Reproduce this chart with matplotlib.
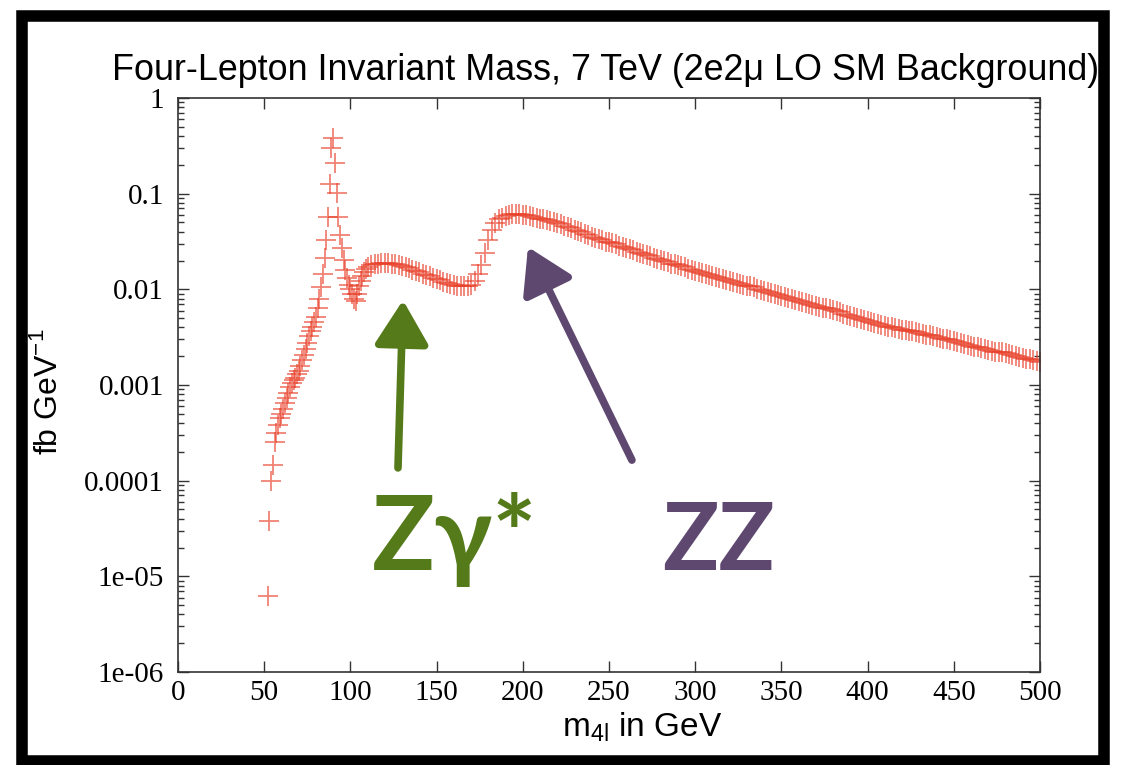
import numpy as np
import matplotlib
matplotlib.use("Agg")
import matplotlib.pyplot as plt
from matplotlib.patches import Rectangle, FancyArrowPatch
from matplotlib.ticker import FixedLocator, FixedFormatter, LogLocator, NullFormatter

# ---- data: 2e2mu LO SM background, d(sigma)/d(m4l) in fb/GeV ----
mass_fine = list(range(52, 111))            # 1 GeV bins around the Z peak
mass_coarse = list(range(112, 501, 2))      # 2 GeV bins above
mass = mass_fine + mass_coarse

log10_dsigma_fine = [
    -5.21, -4.42, -4.00, -3.84, -3.60, -3.50, -3.42, -3.35, -3.30, -3.25,
    -3.19, -3.14, -3.08, -3.02, -2.98, -2.95, -2.93, -2.89, -2.85, -2.80,
    -2.74, -2.69, -2.62, -2.56, -2.49, -2.44, -2.39, -2.34, -2.29, -2.20,
    -2.10, -1.98, -1.84, -1.67, -1.48, -1.24, -0.90, -0.52, -0.42, -0.68,
    -0.99, -1.24, -1.43, -1.57, -1.69, -1.80, -1.88, -1.95, -2.00, -2.05,
    -2.10, -2.12, -2.05, -1.97, -1.91, -1.86, -1.82, -1.79, -1.77,
]
log10_dsigma_coarse = [
    -1.75, -1.74, -1.73, -1.72, -1.72, -1.72, -1.73, -1.74, -1.75, -1.76,
    -1.77, -1.78, -1.80, -1.81, -1.82, -1.84, -1.85, -1.86, -1.88, -1.89,
    -1.90, -1.92, -1.93, -1.94, -1.95, -1.96, -1.97, -1.97, -1.97, -1.95,
    -1.91, -1.84, -1.75, -1.62, -1.48, -1.38, -1.31, -1.27, -1.25, -1.23,
    -1.22, -1.21, -1.21, -1.21, -1.22, -1.22, -1.23, -1.24, -1.25, -1.26,
    -1.27, -1.28, -1.29, -1.30, -1.31,
    -1.32, -1.34, -1.35, -1.36, -1.38, -1.39, -1.40, -1.42, -1.43, -1.45,
    -1.46, -1.47, -1.48, -1.50, -1.51, -1.52, -1.53, -1.55, -1.56, -1.57,
    -1.58, -1.59, -1.61, -1.62, -1.63, -1.64, -1.65, -1.67, -1.68, -1.69,
    -1.70, -1.71, -1.73, -1.74, -1.75, -1.76, -1.77, -1.79, -1.80, -1.81,
    -1.82, -1.83, -1.84, -1.85, -1.86, -1.87, -1.88, -1.89, -1.90, -1.91,
    -1.92, -1.93, -1.94, -1.95, -1.96, -1.97, -1.98, -2.00, -2.01, -2.02,
    -2.03, -2.04, -2.05, -2.06, -2.07, -2.08, -2.09, -2.10, -2.11, -2.12,
    -2.13, -2.14, -2.15, -2.16, -2.17, -2.18, -2.19, -2.20, -2.21, -2.22,
    -2.23, -2.24, -2.26, -2.27, -2.28, -2.29, -2.30, -2.31, -2.32, -2.33,
    -2.34, -2.35, -2.36, -2.37, -2.38, -2.39, -2.39, -2.40, -2.41, -2.42,
    -2.43, -2.44, -2.44, -2.45, -2.46, -2.47, -2.48, -2.48, -2.49, -2.50,
    -2.51, -2.52, -2.52, -2.53, -2.54, -2.55, -2.56, -2.57, -2.58, -2.59,
    -2.60, -2.60, -2.61, -2.62, -2.63, -2.64, -2.65, -2.66, -2.66, -2.67,
    -2.68, -2.69, -2.70, -2.71, -2.72, -2.73, -2.73, -2.74, -2.75, -2.76,
]
dsigma = np.power(10.0, np.array(log10_dsigma_fine + log10_dsigma_coarse))

x_ticks = [0, 50, 100, 150, 200, 250, 300, 350, 400, 450, 500]
y_ticks = [1e-6, 1e-5, 1e-4, 1e-3, 1e-2, 1e-1, 1]
y_tick_labels = ["1e-06", "1e-05", "0.0001", "0.001", "0.01", "0.1", "1"]

title = "Four-Lepton Invariant Mass, 7 TeV (2e2\u03bc LO SM Background)"

# ---- figure ----
plt.rcParams["font.family"] = ["Liberation Serif", "DejaVu Serif"]
W, H = 1126, 765
fig = plt.figure(figsize=(W / 100, H / 100), dpi=100)
fig.patch.set_facecolor("white")

def fx(px):
    return px / W

def fy(py):
    return 1 - py / H

ax = fig.add_axes([fx(178), fy(672), fx(1040) - fx(178), fy(98) - fy(672)])
ax.plot(mass, dsigma, linestyle="none", marker="+", markersize=14,
        markeredgewidth=1.3, color="#e8402a", alpha=0.65)

ax.set_xlim(0, 500)
ax.set_yscale("log")
ax.set_ylim(1e-6, 1)
ax.xaxis.set_major_locator(FixedLocator(x_ticks))
ax.yaxis.set_major_locator(FixedLocator(y_ticks))
ax.yaxis.set_major_formatter(FixedFormatter(y_tick_labels))
ax.yaxis.set_minor_locator(LogLocator(base=10, subs=range(2, 10)))
ax.yaxis.set_minor_formatter(NullFormatter())
ax.tick_params(which="both", direction="in", top=True, right=True,
               colors="#333333", labelcolor="black", labelsize=21, width=1.0)
ax.tick_params(which="major", length=8)
ax.tick_params(which="minor", length=4)
ax.tick_params(axis="x", pad=6)
ax.tick_params(axis="y", pad=10)
for s in ax.spines.values():
    s.set_color("#333333")
    s.set_linewidth(1.2)

sans = ["Liberation Sans", "DejaVu Sans"]
fig.text(fx(606), fy(70), title, ha="center", va="center",
         fontsize=25.8, family=sans)
fig.text(fx(642), fy(727), r"m$_{\mathregular{4l}}$ in GeV", ha="center",
         va="center", fontsize=24, family=sans)
fig.text(fx(48), fy(392), r"fb GeV$^{\mathregular{-1}}$", ha="center",
         va="center", rotation=90, fontsize=23, family=sans)

# ---- process annotations ----
green = "#547a1a"
purple = "#5e4870"
ax.add_patch(FancyArrowPatch((127.6, 1.36e-4), (130.5, 7.7e-3),
                             arrowstyle="-|>,head_length=0.9,head_width=0.55",
                             mutation_scale=30, lw=5.5, color=green,
                             capstyle="round", joinstyle="round",
                             shrinkA=0, shrinkB=0, zorder=3))
ax.add_patch(FancyArrowPatch((263.3, 1.64e-4), (203.0, 2.77e-2),
                             arrowstyle="-|>,head_length=0.9,head_width=0.55",
                             mutation_scale=30, lw=5.5, color=purple,
                             capstyle="round", joinstyle="round",
                             shrinkA=0, shrinkB=0, zorder=3))
label_font = ["Lato", "DejaVu Sans"]
ax.text(112.5, 1.17e-5, "Z\u03b3*", ha="left", va="baseline", fontsize=75,
        fontweight="bold", color=green, family=label_font)
ax.text(280.7, 1.17e-5, "ZZ", ha="left", va="baseline", fontsize=67,
        fontweight="bold", color=purple, family=label_font)

# ---- black frame around the slide ----
fig.patches.append(Rectangle((fx(1109), 0), 1 - fx(1109), 1,
                             transform=fig.transFigure, facecolor="white",
                             edgecolor="none", zorder=9))
fig.patches.append(Rectangle((fx(21.5), fy(760.5)), fx(1103.5) - fx(21.5),
                             fy(16) - fy(760.5), transform=fig.transFigure,
                             fill=False, edgecolor="black", linewidth=8.3,
                             joinstyle="miter", zorder=10))

fig.savefig("out.png", dpi=100)
